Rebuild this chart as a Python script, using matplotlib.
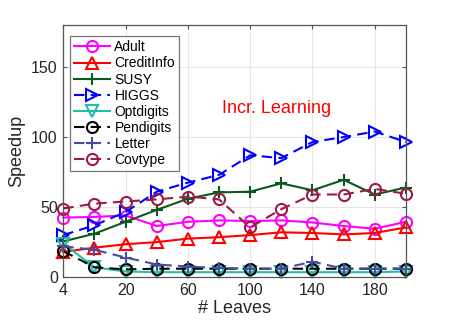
import numpy as np
import matplotlib
matplotlib.use("Agg")
import matplotlib.pyplot as plt

plt.rcParams['font.family'] = ['Liberation Sans', 'DejaVu Sans']

# 横軸: 葉の数 (等間隔のカテゴリとして描画)
leaves = [4, 10, 20, 40, 60, 80, 100, 120, 140, 160, 180, 200]
tick_labels = ["4", "20", "60", "100", "140", "180"]

adult = [42.5, 43, 44, 36.5, 39.5, 40.5, 40, 40.5, 39, 36.5, 34.5, 39.5]
creditinfo = [18, 21, 23.5, 25, 27.5, 28.5, 30, 32, 31.5, 30.5, 31.5, 35.5]
susy = [25.5, 31, 39.5, 48, 56, 60.5, 61, 67, 62, 69.5, 59, 64]
higgs = [30, 37, 46.5, 61, 67.5, 73, 87, 85, 96.5, 100, 104, 96.5]
optdigits = [24, 7, 4, 3.5, 3.5, 3.5, 3.5, 3.5, 3.5, 3.5, 3.5, 4]
pendigits = [18.5, 7, 5.5, 6, 6, 6, 6, 6, 6, 6, 6, 6]
letter = [22, 19.5, 14, 9, 7.5, 6.5, 6, 6, 11, 6, 6, 6]
covtype = [49, 52.5, 54, 55.5, 57.5, 55.5, 35.5, 48.5, 59, 59, 63, 59.5]

series = [
    ("Adult", adult, "#ff00ff", "-", "o"),
    ("CreditInfo", creditinfo, "#ff0000", "-", "^"),
    ("SUSY", susy, "#0a5a1e", "-", "+"),
    ("HIGGS", higgs, "#0000ff", "--", ">"),
    ("Optdigits", optdigits, "#1fbfaa", "-", "v"),
    ("Pendigits", pendigits, "#000000", "--", "o"),
    ("Letter", letter, "#4a4a9e", "--", "+"),
    ("Covtype", covtype, "#9b1b45", "--", "o"),
]


def main():
    fig = plt.figure(figsize=(4.49, 3.26), dpi=100)
    ax = fig.add_axes([0.141, 0.150, 0.763, 0.773])

    pos = np.arange(len(leaves))
    for name, vals, color, ls, mk in series:
        ax.plot(pos, vals, color=color, linestyle=ls, linewidth=1.5,
                marker=mk, markersize=8 if mk != "+" else 9,
                markerfacecolor="none", markeredgewidth=1.5,
                dashes=(5, 3) if ls == "--" else (None, None),
                label=name, clip_on=False)

    ax.set_xlim(0, len(leaves) - 1)
    ax.set_ylim(0, 180)
    ax.set_xticks(pos[::2])
    ax.set_xticklabels(tick_labels)
    ax.set_yticks([0, 50, 100, 150])

    ax.grid(True, color="#e6e6e6", linewidth=0.8)
    ax.set_axisbelow(True)
    for sp in ax.spines.values():
        sp.set_color("#555555")
        sp.set_linewidth(0.9)
    ax.tick_params(direction="in", top=True, right=True, length=3,
                   color="#555555", labelsize=11.5, labelcolor="#262626", pad=4)

    ax.set_xlabel("# Leaves", fontsize=13, color="#262626", labelpad=2)
    ax.set_ylabel("Speedup", fontsize=13, color="#262626", labelpad=4)

    ax.text(6.86, 120.5, "Incr. Learning", color="#ff0000", fontsize=13,
            ha="center", va="center")

    leg = ax.legend(loc="upper left", bbox_to_anchor=(0.0196, 0.956),
                    borderaxespad=0, fontsize=10, frameon=True, fancybox=False,
                    edgecolor="#555555", handlelength=2.6, handletextpad=0.3,
                    labelspacing=0.15, borderpad=0.3)
    leg.get_frame().set_linewidth(0.9)

    fig.savefig("out.png", dpi=100)


if __name__ == "__main__":
    main()
